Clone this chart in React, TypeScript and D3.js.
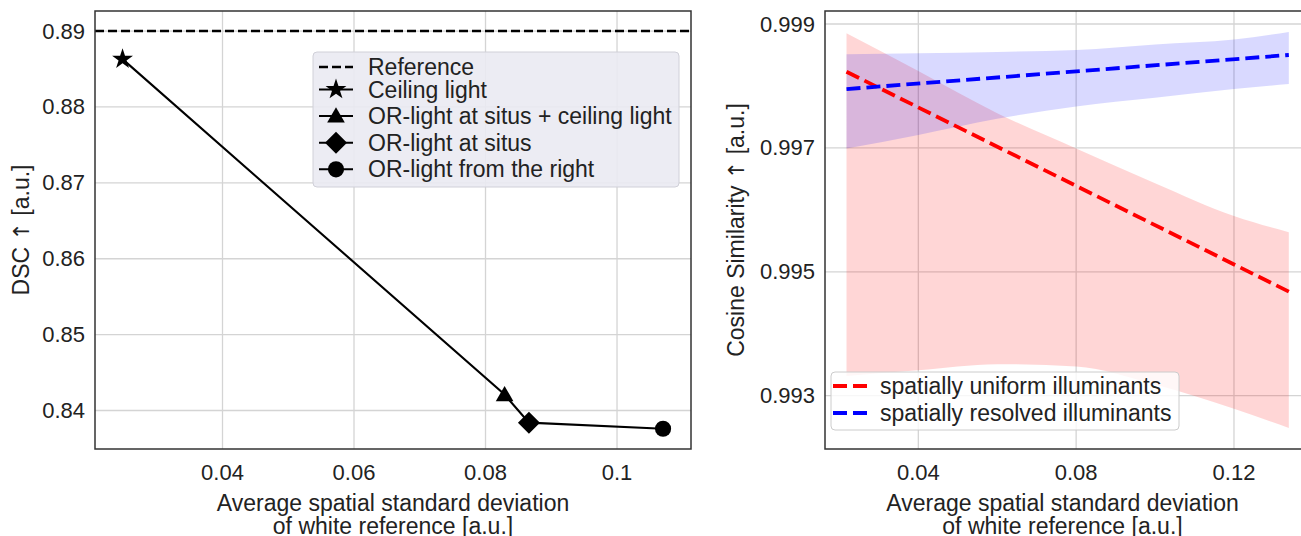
import React from "react";
import * as d3 from "d3";

// ---------- Left panel data ----------
const dscX = [0.0248, 0.0829, 0.0866, 0.107];
const dscY = [0.8863, 0.8421, 0.8384, 0.8376];
const dscLabels = [
  "Ceiling light",
  "OR-light at situs + ceiling light",
  "OR-light at situs",
  "OR-light from the right",
];
const dscMarkers = ["star", "triangle", "diamond", "circle"];
const referenceDSC = 0.89;
const referenceLabel = "Reference";
const leftXTicks = [0.04, 0.06, 0.08, 0.1];
const leftXTickLabels = ["0.04", "0.06", "0.08", "0.1"];
const leftYTicks = [0.84, 0.85, 0.86, 0.87, 0.88, 0.89];
const leftYTickLabels = ["0.84", "0.85", "0.86", "0.87", "0.88", "0.89"];

// ---------- Right panel data ----------
const regX = [0.0218, 0.1339];
const uniformLine = [0.99823, 0.99468];
const resolvedLine = [0.99795, 0.9985];
const bandX = [0.0218, 0.04, 0.06, 0.08, 0.1, 0.12, 0.1339];
const uniformUpper = [0.99885, 0.99824, 0.99756, 0.99699, 0.99643, 0.99590, 0.99564];
const uniformLower = [0.99332, 0.99341, 0.99351, 0.99347, 0.99318, 0.99279, 0.99248];
const resolvedUpper = [0.99851, 0.99853, 0.99855, 0.99858, 0.99867, 0.99875, 0.99887];
const resolvedLower = [0.99699, 0.99721, 0.99747, 0.99767, 0.99781, 0.99795, 0.99803];
const rightSeries = ["spatially uniform illuminants", "spatially resolved illuminants"];
const rightXTicks = [0.04, 0.08, 0.12];
const rightXTickLabels = ["0.04", "0.08", "0.12"];
const rightYTicks = [0.993, 0.995, 0.997, 0.999];
const rightYTickLabels = ["0.993", "0.995", "0.997", "0.999"];

const xLabel1 = "Average spatial standard deviation";
const xLabel2 = "of white reference [a.u.]";

const FONT = "'Liberation Sans', Arial, sans-serif";
const TXT = "#222222";
const GRID = "#d4d4d4";
const SPINE = "#333333";
const FS_TICK = 22;
const FS = 23;

function markerPath(kind: string): string {
  if (kind === "star") return d3.symbol(d3.symbolStar, 135)() || "";
  if (kind === "triangle") return d3.symbol(d3.symbolTriangle, 135)() || "";
  if (kind === "diamond") {
    const r = 11;
    return `M0,${-r}L${r},0L0,${r}L${-r},0Z`;
  }
  return d3.symbol(d3.symbolCircle, 205)() || "";
}

function Marker({ kind, x, y }: { kind: string; x: number; y: number }) {
  const dy = kind === "triangle" ? 1.5 : 0;
  return <path d={markerPath(kind)} transform={`translate(${x},${y + dy})`} fill="#000" />;
}

function YLabel({ x, y, pre }: { x: number; y: number; pre: string }) {
  return (
    <text transform={`translate(${x},${y}) rotate(-90)`} textAnchor="middle" dominantBaseline="central" fontSize={FS} fill={TXT} fontFamily={FONT}>
      {pre}
      <tspan fontFamily="'DejaVu Sans', sans-serif" fontSize={22}>↑</tspan>
      {" [a.u.]"}
    </text>
  );
}

function LeftPanel() {
  const L = 95, R = 691, T = 11, B = 449;
  const x = d3.scaleLinear().domain([0.02061, 0.11125]).range([L, R]);
  const y = d3.scaleLinear().domain([0.83493, 0.89264]).range([B, T]);
  const line = d3.line<number>().x((_, i) => x(dscX[i])).y((d) => y(d));
  const cx = (L + R) / 2;
  const lgX = 313, lgY = 52, lgW = 366, lgH = 135;
  const rowY = [67, 89.5, 116, 142.7, 169.3];
  const hx0 = 319, hx1 = 353;
  return (
    <g>
      {leftXTicks.map((t) => (
        <line key={"gx" + t} x1={x(t)} x2={x(t)} y1={T} y2={B} stroke={GRID} strokeWidth={1.3} />
      ))}
      {leftYTicks.map((t) => (
        <line key={"gy" + t} x1={L} x2={R} y1={y(t)} y2={y(t)} stroke={GRID} strokeWidth={1.3} />
      ))}
      <line x1={L} x2={R} y1={y(referenceDSC)} y2={y(referenceDSC)} stroke="#000" strokeWidth={2.5} strokeDasharray="9 4" />
      <path d={line(dscY) || ""} fill="none" stroke="#000" strokeWidth={2.1} />
      {dscY.map((v, i) => (
        <Marker key={i} kind={dscMarkers[i]} x={x(dscX[i])} y={y(v)} />
      ))}
      <rect x={L} y={T} width={R - L} height={B - T} fill="none" stroke={SPINE} strokeWidth={1.5} />
      {leftXTicks.map((t, i) => (
        <text key={"tx" + t} x={x(t)} y={472} textAnchor="middle" dominantBaseline="central" fontSize={FS_TICK} fill={TXT} fontFamily={FONT}>
          {leftXTickLabels[i]}
        </text>
      ))}
      {leftYTicks.map((t, i) => (
        <text key={"ty" + t} x={85} y={y(t)} textAnchor="end" dominantBaseline="central" fontSize={FS_TICK} fill={TXT} fontFamily={FONT}>
          {leftYTickLabels[i]}
        </text>
      ))}
      <text x={cx} y={503} textAnchor="middle" dominantBaseline="central" fontSize={FS} fill={TXT} fontFamily={FONT}>{xLabel1}</text>
      <text x={cx} y={526} textAnchor="middle" dominantBaseline="central" fontSize={FS} fill={TXT} fontFamily={FONT}>{xLabel2}</text>
      <YLabel x={21} y={(T + B) / 2} pre="DSC " />
      {/* legend */}
      <rect x={lgX} y={lgY} width={lgW} height={lgH} rx={4} fill="#eaeaf2" fillOpacity={0.9} stroke="#d0d0d8" strokeWidth={1} />
      <line x1={hx0} x2={hx1} y1={rowY[0]} y2={rowY[0]} stroke="#000" strokeWidth={2.5} strokeDasharray="9 4" />
      <text x={368} y={rowY[0]} dominantBaseline="central" fontSize={FS} fill={TXT} fontFamily={FONT}>{referenceLabel}</text>
      {dscLabels.map((lab, i) => (
        <g key={lab}>
          <line x1={hx0} x2={hx1} y1={rowY[i + 1]} y2={rowY[i + 1]} stroke="#000" strokeWidth={2.1} />
          <Marker kind={dscMarkers[i]} x={(hx0 + hx1) / 2} y={rowY[i + 1]} />
          <text x={368} y={rowY[i + 1]} dominantBaseline="central" fontSize={FS} fill={TXT} fontFamily={FONT}>{lab}</text>
        </g>
      ))}
    </g>
  );
}

function RightPanel() {
  const L = 825, R = 1302, T = 11, B = 449;
  const x = d3.scaleLinear().domain([0.01635, 0.13724]).range([L, R]);
  const y = d3.scaleLinear().domain([0.99214, 0.99921]).range([B, T]);
  const area = (up: number[], lo: number[]) =>
    d3
      .area<number>()
      .curve(d3.curveMonotoneX)
      .x((d) => x(d))
      .y0((_, i) => y(lo[i]))
      .y1((_, i) => y(up[i]))(bandX) || "";
  const line = (vals: number[]) =>
    d3.line<number>().x((_, i) => x(regX[i])).y((d) => y(d))(vals) || "";
  const cx = (825 + 1300) / 2;
  const lgX = 831, lgY = 372, lgW = 348, lgH = 58;
  const rowY = [386, 413];
  const colors = ["#ff0000", "#0000ff"];
  return (
    <g>
      {rightXTicks.map((t) => (
        <line key={"gx" + t} x1={x(t)} x2={x(t)} y1={T} y2={B} stroke={GRID} strokeWidth={1.3} />
      ))}
      {rightYTicks.map((t) => (
        <line key={"gy" + t} x1={L} x2={R} y1={y(t)} y2={y(t)} stroke={GRID} strokeWidth={1.3} />
      ))}
      <path d={area(uniformUpper, uniformLower)} fill="#ff0000" fillOpacity={0.16} />
      <path d={area(resolvedUpper, resolvedLower)} fill="#0000ff" fillOpacity={0.15} />
      <path d={line(uniformLine)} fill="none" stroke="#ff0000" strokeWidth={3.8} strokeDasharray="14 6" />
      <path d={line(resolvedLine)} fill="none" stroke="#0000ff" strokeWidth={3.8} strokeDasharray="14 6" />
      <rect x={L} y={T} width={R - L} height={B - T} fill="none" stroke={SPINE} strokeWidth={1.5} />
      {rightXTicks.map((t, i) => (
        <text key={"tx" + t} x={x(t)} y={472} textAnchor="middle" dominantBaseline="central" fontSize={FS_TICK} fill={TXT} fontFamily={FONT}>
          {rightXTickLabels[i]}
        </text>
      ))}
      {rightYTicks.map((t, i) => (
        <text key={"ty" + t} x={815} y={y(t)} textAnchor="end" dominantBaseline="central" fontSize={FS_TICK} fill={TXT} fontFamily={FONT}>
          {rightYTickLabels[i]}
        </text>
      ))}
      <text x={cx} y={503} textAnchor="middle" dominantBaseline="central" fontSize={FS} fill={TXT} fontFamily={FONT}>{xLabel1}</text>
      <text x={cx} y={526} textAnchor="middle" dominantBaseline="central" fontSize={FS} fill={TXT} fontFamily={FONT}>{xLabel2}</text>
      <YLabel x={736} y={(T + B) / 2} pre="Cosine Similarity " />
      <rect x={lgX} y={lgY} width={lgW} height={lgH} rx={4} fill="#ffffff" fillOpacity={0.8} stroke="#cccccc" strokeWidth={1} />
      {rightSeries.map((lab, i) => (
        <g key={lab}>
          <line x1={833} x2={867} y1={rowY[i]} y2={rowY[i]} stroke={colors[i]} strokeWidth={3.8} strokeDasharray="14 6" />
          <text x={880} y={rowY[i]} dominantBaseline="central" fontSize={FS} fill={TXT} fontFamily={FONT}>{lab}</text>
        </g>
      ))}
    </g>
  );
}

export default function App() {
  return (
    <svg
      width={1301}
      height={536}
      viewBox="0 0 1301 536"
      style={{ position: "absolute", left: 0, top: 0, background: "#fff" }}
    >
      <rect x={0} y={0} width={1301} height={536} fill="#fff" />
      <LeftPanel />
      <RightPanel />
    </svg>
  );
}
